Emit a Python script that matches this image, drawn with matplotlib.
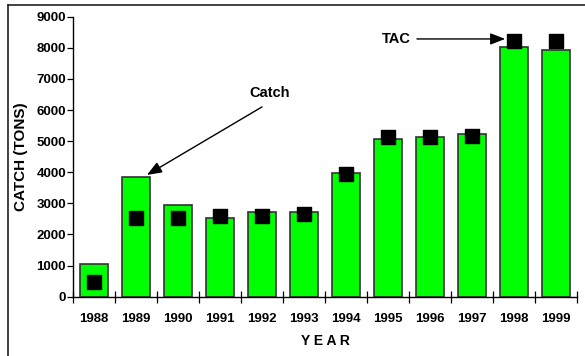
import matplotlib
matplotlib.use("Agg")
import matplotlib.pyplot as plt
from matplotlib.lines import Line2D

years = ["1988", "1989", "1990", "1991", "1992", "1993",
         "1994", "1995", "1996", "1997", "1998", "1999"]
catch = [1060, 3840, 2940, 2540, 2714, 2714, 3970, 5080, 5135, 5220, 8020, 7940]
tac = [460, 2520, 2520, 2600, 2600, 2660, 3930, 5145, 5145, 5160, 8230, 8230]

W, H = 585, 356
fig = plt.figure(figsize=(W / 100, H / 100), dpi=100)
ax = fig.add_axes([73 / W, 1 - 296.7 / H, 504 / W, (296.7 - 16.7) / H])

FONT = ["Liberation Sans Narrow", "Liberation Sans", "DejaVu Sans"]

x = list(range(len(years)))
ax.bar(x, catch, width=0.69, color="#00ff00", edgecolor="#333333", linewidth=1.2, zorder=2)
ax.scatter(x, tac, marker="s", s=110, color="black", zorder=3)

ax.set_xlim(-0.5, len(years) - 0.5)
ax.set_ylim(0, 9000)
ax.set_yticks(range(0, 9001, 1000))
ax.set_yticklabels([str(v) for v in range(0, 9001, 1000)], family=FONT, fontsize=9.5,
                   fontweight="semibold")

ax.set_xticks(x)
ax.set_xticklabels(years, family=FONT, fontsize=9.5, fontweight="semibold")
ax.tick_params(axis="x", length=0, pad=12)
ax.set_xticks([i - 0.5 for i in range(len(years) + 1)], minor=True)
ax.tick_params(axis="x", which="minor", direction="inout", length=8, width=0.9)
ax.tick_params(axis="y", length=4, width=0.9, pad=1)

for s in ["top", "right"]:
    ax.spines[s].set_visible(False)
ax.spines["left"].set_linewidth(1.0)
ax.spines["bottom"].set_linewidth(1.0)

ax.set_xlabel("Y E A R", family=FONT, fontsize=10, fontweight="bold", labelpad=6)
ax.set_ylabel("CATCH (TONS)", family=FONT, fontsize=11, fontweight="bold", labelpad=6)

arrow = dict(arrowstyle="-|>,head_length=0.9,head_width=0.35", color="black", lw=1.0,
             shrinkA=0, shrinkB=0)
ax.text(4.17, 6550, "Catch", family=FONT, fontsize=10.5, fontweight="bold",
        ha="center", va="center")
ax.annotate("", xy=(1.26, 3913), xytext=(4.0, 6100), arrowprops=arrow)
ax.text(7.21, 8285, "TAC", family=FONT, fontsize=10.5, fontweight="bold",
        ha="center", va="center")
ax.annotate("", xy=(9.79, 8285), xytext=(7.69, 8285), arrowprops=arrow)

# outer frame (left and top edges visible in the reference)
fig.add_artist(Line2D([7.5 / W, 7.5 / W], [0, 1 - 5 / H], transform=fig.transFigure,
                      color="#222222", lw=1.2))
fig.add_artist(Line2D([7.5 / W, 1], [1 - 5 / H, 1 - 5 / H], transform=fig.transFigure,
                      color="#222222", lw=1.2))

fig.savefig("out.png", dpi=100)
